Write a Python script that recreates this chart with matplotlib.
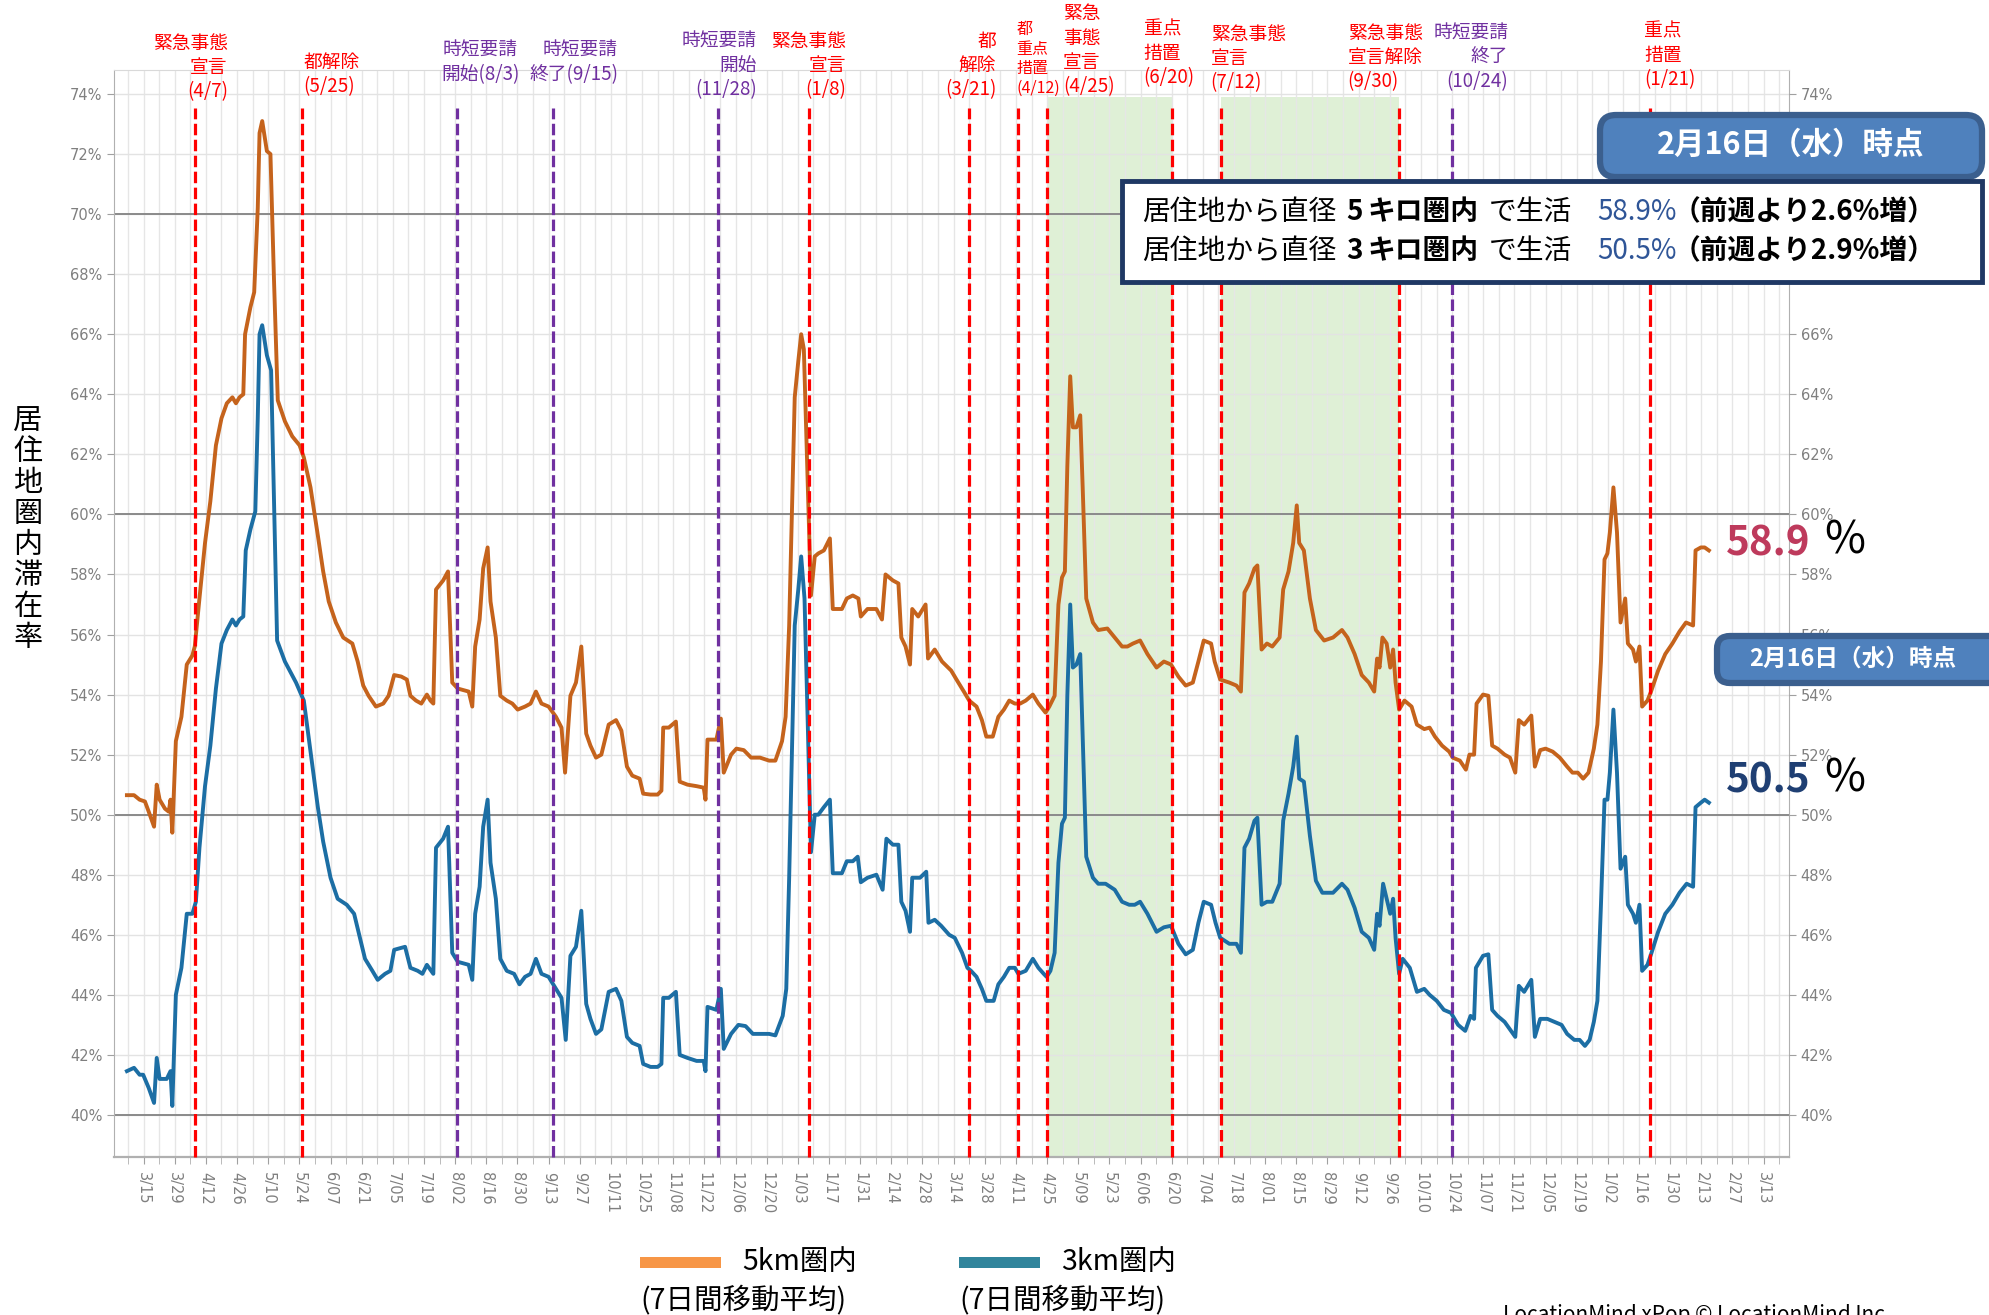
import numpy as np
import pandas as pd
import matplotlib
matplotlib.use('Agg')
import matplotlib.pyplot as plt
from matplotlib.patches import FancyBboxPatch, Rectangle
from matplotlib.transforms import IdentityTransform

plt.rcParams['font.family'] = ['Noto Sans CJK JP', 'DejaVu Sans']

START = pd.Timestamp('2020-03-15')   # day 0 of the x axis

# (days since 2020-03-15, percent)
five_km = [
    (-7.5, 50.65), (-4.3, 50.65), (-1.8, 50.5), (0.6, 50.44), (2.3, 50.1), (4.7, 49.6), (5.9, 51.0),
    (7.2, 50.5), (9.6, 50.2), (11.3, 50.1), (12.1, 50.5), (12.9, 49.4), (14.5, 52.45), (17.0, 53.26),
    (19.4, 55.0), (21.9, 55.3), (23.0, 55.6), (25.1, 57.2), (27.6, 59.05), (30.0, 60.44), (32.5, 62.3),
    (35.0, 63.2), (37.4, 63.7), (39.9, 63.9), (41.5, 63.7), (43.1, 63.9), (44.8, 64.0), (45.6, 66.0),
    (48.0, 66.9), (49.7, 67.4), (51.3, 70.2), (52.1, 72.7), (53.3, 73.1), (55.4, 72.1), (57.0, 72.0),
    (58.6, 67.8), (60.3, 63.8), (63.5, 63.1), (66.8, 62.6), (70.1, 62.3), (72.0, 61.9), (75.0, 60.9),
    (78.3, 59.3), (80.7, 58.1), (83.2, 57.1), (86.4, 56.4), (89.7, 55.9), (93.8, 55.7), (96.2, 55.1),
    (98.7, 54.3), (101.1, 53.96), (104.4, 53.6), (107.7, 53.7), (110.1, 53.96), (112.6, 54.65),
    (115.8, 54.6), (118.3, 54.5), (119.9, 53.96), (122.4, 53.8), (124.8, 53.7), (127.3, 54.0),
    (128.9, 53.8), (130.2, 53.7), (131.4, 57.5), (134.6, 57.8), (136.8, 58.1), (138.7, 54.4),
    (141.2, 54.2), (146.1, 54.1), (147.7, 53.6), (149.0, 55.6), (151.0, 56.5), (152.6, 58.2),
    (154.6, 58.9), (155.9, 57.1), (158.3, 55.9), (160.3, 53.96), (163.2, 53.8), (165.7, 53.7),
    (168.1, 53.5), (171.4, 53.6), (173.9, 53.7), (176.3, 54.1), (178.8, 53.7), (182.0, 53.6),
    (185.3, 53.26), (187.8, 52.9), (189.4, 51.4), (191.8, 53.96), (194.3, 54.4), (196.7, 55.6),
    (198.9, 52.7), (200.8, 52.3), (203.3, 51.9), (205.7, 52.0), (209.0, 53.0), (212.3, 53.15),
    (214.7, 52.8), (217.2, 51.6), (219.6, 51.3), (222.9, 51.2), (224.5, 50.7), (227.8, 50.67),
    (231.0, 50.67), (232.7, 50.8), (233.5, 52.9), (236.0, 52.9), (239.2, 53.1), (240.9, 51.1),
    (244.4, 51.0), (248.5, 50.95), (251.7, 50.9), (252.5, 50.5), (253.4, 52.5), (257.4, 52.5),
    (259.4, 53.2), (260.7, 51.4), (264.0, 52.0), (266.4, 52.2), (269.7, 52.15), (273.0, 51.9),
    (277.0, 51.9), (281.1, 51.8), (283.9, 51.8), (286.9, 52.45), (288.5, 53.26), (290.1, 56.3),
    (292.6, 63.9), (294.2, 65.1), (295.5, 66.0), (296.7, 65.5), (298.3, 61.4), (299.9, 57.3),
    (301.6, 58.6), (303.2, 58.7), (305.7, 58.8), (308.4, 59.2), (309.7, 56.85), (313.8, 56.85),
    (316.0, 57.2), (318.7, 57.3), (321.2, 57.2), (322.3, 56.6), (325.3, 56.85), (329.3, 56.85),
    (331.8, 56.5), (333.4, 58.0), (336.7, 57.8), (339.2, 57.7), (340.5, 55.9), (342.4, 55.6),
    (344.4, 55.0), (345.4, 56.85), (348.1, 56.6), (351.4, 57.0), (352.5, 55.2), (355.5, 55.5),
    (358.8, 55.1), (362.9, 54.8), (365.3, 54.5), (368.6, 54.1), (371.0, 53.8), (374.3, 53.6),
    (376.7, 53.15), (378.7, 52.6), (381.6, 52.6), (384.1, 53.26), (386.6, 53.5), (389.0, 53.8),
    (391.5, 53.7), (393.9, 53.7), (396.4, 53.8), (399.6, 54.0), (402.1, 53.7), (405.3, 53.4),
    (407.0, 53.6), (409.4, 53.96), (411.1, 57.0), (412.7, 57.9), (414.0, 58.1), (415.1, 61.6),
    (416.4, 64.6), (417.6, 62.9), (419.2, 62.9), (420.9, 63.3), (422.0, 60.9), (423.6, 57.2),
    (426.6, 56.4), (429.0, 56.15), (433.1, 56.2), (436.4, 55.9), (439.7, 55.6), (442.1, 55.6),
    (444.6, 55.7), (447.8, 55.8), (451.1, 55.35), (455.2, 54.9), (458.5, 55.1), (461.7, 55.0),
    (465.0, 54.6), (468.3, 54.3), (471.5, 54.4), (474.0, 55.1), (476.4, 55.8), (479.7, 55.7),
    (481.3, 55.1), (483.8, 54.5), (487.9, 54.4), (491.1, 54.3), (493.1, 54.1), (494.7, 57.4),
    (496.8, 57.7), (499.2, 58.2), (500.5, 58.3), (502.4, 55.5), (504.8, 55.7), (507.2, 55.6),
    (510.5, 55.9), (512.1, 57.5), (514.5, 58.1), (516.6, 59.05), (518.2, 60.3), (519.3, 59.05),
    (521.4, 58.8), (524.1, 57.2), (526.8, 56.15), (530.5, 55.8), (534.5, 55.9), (538.5, 56.15),
    (541.0, 55.9), (544.2, 55.35), (547.4, 54.65), (550.6, 54.4), (553.0, 54.1), (554.3, 55.2),
    (555.4, 54.9), (556.7, 55.9), (558.6, 55.7), (560.2, 54.9), (561.5, 55.5), (562.6, 54.4),
    (564.2, 53.5), (566.6, 53.8), (569.8, 53.6), (572.2, 53.0), (575.5, 52.85), (577.9, 52.9),
    (580.3, 52.6), (583.5, 52.3), (586.7, 52.1), (588.3, 51.9), (591.5, 51.8), (594.2, 51.5),
    (595.8, 52.0), (597.9, 52.0), (599.0, 53.7), (601.9, 54.0), (604.3, 53.96), (606.0, 52.3),
    (608.4, 52.2), (611.6, 52.0), (614.0, 51.9), (616.4, 51.4), (618.0, 53.15), (620.4, 53.0),
    (623.6, 53.3), (625.2, 51.6), (627.6, 52.15), (630.0, 52.2), (633.2, 52.1), (636.4, 51.9),
    (639.7, 51.6), (642.1, 51.4), (644.5, 51.4), (646.9, 51.2), (649.3, 51.4), (651.7, 52.2),
    (653.3, 53.0), (654.9, 55.1), (656.5, 58.5), (657.8, 58.7), (658.9, 59.4), (660.5, 60.9),
    (662.1, 59.4), (663.7, 56.4), (665.8, 57.2), (667.0, 55.7), (669.3, 55.5), (670.6, 55.1),
    (672.2, 55.6), (673.4, 53.6), (675.8, 53.8), (677.4, 54.1), (680.6, 54.8), (683.8, 55.35),
    (687.0, 55.7), (690.2, 56.1), (693.1, 56.4), (696.3, 56.3), (697.4, 58.8), (699.8, 58.9),
    (701.5, 58.9), (703.4, 58.8),
]

three_km = [
    (-7.5, 41.46), (-4.3, 41.57), (-1.8, 41.34), (-0.2, 41.34), (2.3, 40.9), (4.7, 40.4), (5.9, 41.9),
    (7.2, 41.2), (10.4, 41.2), (12.1, 41.46), (12.9, 40.3), (14.5, 44.0), (17.0, 44.9), (19.4, 46.7),
    (21.9, 46.7), (23.5, 47.1), (25.1, 48.9), (27.6, 50.95), (30.0, 52.3), (32.5, 54.2), (35.0, 55.7),
    (37.4, 56.15), (39.9, 56.5), (41.5, 56.3), (43.1, 56.5), (44.8, 56.6), (45.9, 58.8), (48.0, 59.5),
    (50.2, 60.1), (51.3, 63.2), (52.1, 66.0), (53.3, 66.3), (55.4, 65.3), (57.3, 64.8), (58.6, 60.4),
    (60.0, 55.8), (63.5, 55.1), (68.5, 54.4), (72.0, 53.8), (75.0, 52.1), (78.3, 50.25), (80.7, 49.1),
    (84.0, 47.9), (87.2, 47.2), (91.3, 47.0), (94.6, 46.7), (97.9, 45.7), (99.5, 45.2), (102.8, 44.8),
    (105.2, 44.5), (108.5, 44.7), (110.9, 44.8), (112.6, 45.5), (117.5, 45.6), (119.9, 44.9),
    (123.2, 44.8), (125.3, 44.7), (127.3, 45.0), (130.2, 44.7), (131.4, 48.9), (134.6, 49.2),
    (136.8, 49.6), (138.7, 45.4), (141.2, 45.1), (146.1, 45.0), (147.7, 44.5), (149.0, 46.7),
    (151.0, 47.6), (152.6, 49.6), (154.6, 50.5), (155.9, 48.4), (158.3, 47.2), (160.3, 45.2),
    (163.2, 44.8), (166.5, 44.7), (168.9, 44.35), (171.4, 44.6), (173.9, 44.7), (176.3, 45.2),
    (178.8, 44.7), (182.0, 44.6), (185.3, 44.2), (187.8, 43.9), (189.7, 42.5), (191.8, 45.3),
    (194.3, 45.6), (196.7, 46.8), (198.9, 43.7), (200.8, 43.2), (203.3, 42.7), (205.7, 42.85),
    (209.0, 44.1), (212.3, 44.2), (214.7, 43.8), (217.2, 42.6), (219.6, 42.4), (222.9, 42.3),
    (224.5, 41.7), (227.8, 41.6), (231.0, 41.6), (232.7, 41.7), (233.5, 43.9), (236.0, 43.9),
    (239.2, 44.1), (240.9, 42.0), (244.4, 41.9), (248.5, 41.8), (251.7, 41.8), (252.5, 41.46),
    (253.4, 43.6), (257.4, 43.5), (259.4, 44.2), (260.7, 42.2), (264.0, 42.7), (267.3, 43.0),
    (270.5, 42.96), (273.8, 42.7), (277.0, 42.7), (281.1, 42.7), (283.9, 42.65), (287.2, 43.3),
    (288.8, 44.2), (290.1, 47.9), (292.6, 56.3), (294.2, 57.5), (295.5, 58.6), (297.0, 57.2),
    (298.3, 53.5), (299.9, 48.75), (301.6, 50.0), (303.2, 50.0), (305.7, 50.25), (308.4, 50.5),
    (309.7, 48.05), (313.8, 48.05), (316.0, 48.45), (318.7, 48.45), (320.9, 48.6), (322.3, 47.75),
    (325.3, 47.9), (329.3, 48.0), (332.1, 47.5), (333.8, 49.2), (336.7, 49.0), (339.2, 49.0),
    (340.5, 47.1), (342.4, 46.8), (344.4, 46.1), (345.4, 47.9), (348.9, 47.9), (351.7, 48.1),
    (352.7, 46.4), (355.5, 46.5), (358.4, 46.3), (362.0, 46.0), (364.5, 45.9), (367.8, 45.4),
    (370.2, 44.9), (371.8, 44.8), (374.3, 44.6), (376.7, 44.2), (378.7, 43.8), (382.0, 43.8),
    (384.1, 44.35), (386.6, 44.6), (389.0, 44.9), (391.5, 44.9), (393.1, 44.7), (396.4, 44.8),
    (399.6, 45.2), (402.1, 44.9), (404.5, 44.7), (405.8, 44.6), (407.5, 44.8), (409.4, 45.4),
    (411.1, 48.4), (412.7, 49.7), (414.0, 49.9), (415.1, 53.96), (416.4, 57.0), (417.6, 54.9),
    (419.2, 55.0), (420.9, 55.35), (422.0, 52.6), (423.6, 48.6), (426.6, 47.9), (429.0, 47.7),
    (432.3, 47.7), (436.4, 47.5), (439.7, 47.1), (442.9, 47.0), (445.4, 47.0), (447.8, 47.1),
    (451.1, 46.7), (455.2, 46.1), (458.5, 46.25), (461.7, 46.3), (465.0, 45.7), (468.3, 45.35),
    (471.5, 45.5), (474.0, 46.4), (476.4, 47.1), (479.7, 47.0), (481.7, 46.4), (483.8, 45.9),
    (487.9, 45.7), (491.1, 45.7), (493.1, 45.4), (494.7, 48.9), (496.8, 49.2), (499.2, 49.8),
    (500.5, 49.9), (502.4, 47.0), (504.8, 47.1), (507.2, 47.1), (510.5, 47.7), (512.1, 49.8),
    (514.5, 50.7), (516.6, 51.6), (518.2, 52.6), (519.3, 51.2), (521.4, 51.1), (524.1, 49.3),
    (526.8, 47.8), (529.7, 47.4), (534.5, 47.4), (538.5, 47.7), (541.0, 47.5), (544.2, 46.9),
    (547.4, 46.1), (550.6, 45.9), (553.0, 45.5), (554.3, 46.7), (555.4, 46.3), (557.0, 47.7),
    (558.6, 47.2), (560.2, 46.7), (561.5, 47.2), (562.6, 45.9), (564.2, 44.7), (565.8, 45.2),
    (569.0, 44.9), (572.2, 44.1), (575.5, 44.2), (577.9, 44.0), (581.1, 43.8), (584.3, 43.5),
    (587.5, 43.4), (590.7, 43.0), (593.9, 42.8), (596.3, 43.3), (597.9, 43.2), (598.7, 44.9),
    (601.9, 45.3), (604.3, 45.35), (606.0, 43.5), (608.4, 43.3), (611.6, 43.1), (614.0, 42.85),
    (616.4, 42.6), (618.0, 44.3), (620.4, 44.1), (623.6, 44.5), (625.2, 42.6), (627.6, 43.2),
    (630.8, 43.2), (634.0, 43.1), (637.2, 43.0), (639.7, 42.7), (642.9, 42.5), (645.3, 42.5),
    (647.7, 42.3), (649.8, 42.5), (651.7, 43.1), (653.3, 43.8), (654.9, 47.0), (656.5, 50.5),
    (657.8, 50.5), (658.9, 51.4), (660.5, 53.5), (662.1, 51.4), (663.7, 48.2), (665.8, 48.6),
    (667.0, 47.0), (669.3, 46.7), (670.6, 46.4), (672.2, 47.0), (673.4, 44.8), (675.8, 45.0),
    (677.4, 45.35), (680.6, 46.1), (683.8, 46.7), (687.0, 47.0), (690.2, 47.4), (693.4, 47.7),
    (696.3, 47.6), (697.4, 50.25), (699.8, 50.4), (701.5, 50.5), (703.4, 50.4),
]

event_dates = ['2020-04-07', '2020-05-25', '2020-08-03', '2020-09-15', '2020-11-28', '2021-01-08',
               '2021-03-21', '2021-04-12', '2021-04-25', '2021-06-20', '2021-07-12', '2021-09-30',
               '2021-10-24', '2022-01-21']
event_labels = ['緊急事態\n宣言\n(4/7)', '都解除\n(5/25)', '時短要請\n開始(8/3)', '時短要請\n終了(9/15)',
                '時短要請\n開始\n(11/28)', '緊急事態\n宣言\n(1/8)', '都\n解除\n(3/21)', '都\n重点\n措置\n(4/12)',
                '緊急\n事態\n宣言\n(4/25)', '重点\n措置\n(6/20)', '緊急事態\n宣言\n(7/12)',
                '緊急事態\n宣言解除\n(9/30)', '時短要請\n終了\n(10/24)', '重点\n措置\n(1/21)']
event_kind = ['r', 'r', 'p', 'p', 'p', 'r', 'r', 'r', 'r', 'r', 'r', 'r', 'p', 'r']
shaded_periods = [('2021-04-25', '2021-06-20'), ('2021-07-12', '2021-09-30')]

latest_5km = '58.9'
latest_3km = '50.5'
as_of = '2月16日（水）時点'
box_lines = [('5', '58.9%', '2.6%'), ('3', '50.5%', '2.9%')]

# label layout: (x offset px from line, bottom offset px from axes top, ha, fontsize)
label_pos = [(33, -32, 'right', 13.5), (2, -27, 'left', 13.5), (23, -15, 'center', 13.5),
             (65, -15, 'right', 13.5), (39, -30, 'right', 13.5), (37, -30, 'right', 13.5),
             (27, -30, 'right', 13.5), (-2, -27, 'left', 11.5), (16, -27, 'left', 13.5),
             (-28, -18, 'left', 13.5), (-10, -23, 'left', 13.5), (-51, -22, 'left', 13.5),
             (56, -22, 'right', 13.5), (-6, -20, 'left', 13.5)]

RED = '#ff0000'
PURPLE = '#7030a0'
ORANGE = '#c5631c'
BLUE = '#1c6ea4'
GRAY = '#7f7f7f'

W, H = 1989, 1315
fig = plt.figure(figsize=(W / 100, H / 100), dpi=100)
fig.patch.set_facecolor('white')
ax = fig.add_axes([114 / W, 1 - 1157 / H, (1789 - 114) / W, (1157 - 70) / H])
YLO, YHI = 38.6, 74.8
ax.set_xlim(-13.3, 739.4)
ax.set_ylim(YLO, YHI)

def to_day(d):
    return (pd.Timestamp(d) - START).days

# grid
ax.set_axisbelow(True)
yt = np.arange(40, 75, 2)
ax.set_yticks(yt)
ax.set_yticklabels([f'{v}%' for v in yt])
tick_dates = pd.date_range('2020-03-15', '2022-03-13', freq='14D')
ax.set_xticks([to_day(d) for d in tick_dates])
ax.set_xticklabels([f'{d.month}/{d.day:02d}' for d in tick_dates], rotation=-90)
ax.set_xticks(np.arange(-7, 736, 7), minor=True)
ax.grid(axis='y', color='#e3e3e3', lw=1)
ax.grid(axis='x', which='both', color='#e6e6e6', lw=1)
for v in [40, 50, 60, 70]:
    ax.axhline(v, color='#8a8a8a', lw=1.4, zorder=1)

for a, b in shaded_periods:
    ax.fill_between([to_day(a), to_day(b)], YLO, 73.9, color='#dff0d6', lw=0, zorder=0.3)

d5, v5 = zip(*five_km)
d3, v3 = zip(*three_km)
ax.plot(d5, v5, color=ORANGE, lw=2.8, zorder=2, solid_joinstyle='round')
ax.plot(d3, v3, color=BLUE, lw=2.8, zorder=2, solid_joinstyle='round')

for d, lab, k, (dx, dy, ha, fs) in zip(event_dates, event_labels, event_kind, label_pos):
    c = RED if k == 'r' else PURPLE
    day = to_day(d)
    ax.plot([day, day], [YLO, 73.55], color=c, lw=2.3, dashes=(3.6, 1.4), zorder=3, clip_on=False)
    ax.annotate(lab, xy=(day, 1), xycoords=('data', 'axes fraction'), xytext=(dx, dy),
                textcoords='offset pixels', ha=ha, va='bottom', color=c, fontsize=fs,
                linespacing=1.2, annotation_clip=False)

for s in ['left', 'bottom', 'top', 'right']:
    ax.spines[s].set_color('#b0b0b0')
ax.spines['top'].set_color('#d9d9d9')
ax.spines['bottom'].set_linewidth(1.6)
ax.tick_params(axis='both', colors='#a0a0a0', labelcolor=GRAY, labelsize=10.5, length=5)
ax.tick_params(axis='x', which='minor', length=5, colors='#b0b0b0')
ax.tick_params(axis='x', pad=6)
for t in ax.get_xticklabels() + ax.get_yticklabels():
    t.set_fontfamily('DejaVu Sans')

# right axis: the labels behind the white box are not visible in the chart
ax2 = ax.twinx()
ax2.set_ylim(YLO, YHI)
ax2.set_yticks(yt)
ax2.set_yticklabels(['' if v in (68, 70, 72) else f'{v}%' for v in yt])
ax2.tick_params(axis='y', colors='#a0a0a0', labelcolor=GRAY, labelsize=10.5, length=5)
for t in ax2.get_yticklabels():
    t.set_fontfamily('DejaVu Sans')
for s in ax2.spines.values():
    s.set_visible(False)

ID = IdentityTransform()

# y label, one character under another
for i, ch in enumerate('居住地圏内滞在率'):
    fig.text(28, H - (421 + 31 * i), ch, transform=ID, fontsize=21,
             ha='center', va='center', color='black')

# boxes on the upper right
fig.add_artist(FancyBboxPatch((1600, H - 177), 382, 62, boxstyle='round,pad=0,rounding_size=16',
                              fc='#4f81bd', ec='#3b5f8e', lw=4.5, transform=ID, zorder=5))
fig.text(1791, H - 145, as_of, transform=ID, ha='center', va='center', color='white',
         fontsize=22, fontweight='bold', zorder=6)
fig.add_artist(Rectangle((1122, H - 282), 860, 101, fc='white', ec='#1f3864', lw=3.5,
                         transform=ID, zorder=7))
for (km, pct, diff), y in zip(box_lines, [212, 251]):
    pieces = [(1142, '居住地から直径', 'normal', 'black'), (1346, km, 'bold', 'black'),
              (1367, 'キロ圏内', 'bold', 'black'), (1489, 'で生活', 'normal', 'black'),
              (1597, pct, 'normal', '#2f5597'), (1673, f'（前週より{diff}増）', 'bold', 'black')]
    for x, s, wgt, c in pieces:
        fig.text(x, H - y, s, transform=ID, ha='left', va='center', fontsize=20,
                 fontweight=wgt, color=c, zorder=8)

fig.add_artist(FancyBboxPatch((1717, H - 683), 300, 47, boxstyle='round,pad=0,rounding_size=13',
                              fc='#4f81bd', ec='#3b5f8e', lw=4.5, transform=ID, zorder=5))
fig.text(1853, H - 659, as_of, transform=ID, ha='center', va='center', color='white',
         fontsize=17, fontweight='bold', zorder=6)

fig.text(1726, H - 544, latest_5km, transform=ID, ha='left', va='center', color='#be3a5c',
         fontsize=29, fontweight='bold', zorder=6)
fig.text(1824, H - 541, '%', transform=ID, ha='left', va='center', color='black', fontsize=32, zorder=6)
fig.text(1726, H - 781, latest_3km, transform=ID, ha='left', va='center', color='#1f3f73',
         fontsize=29, fontweight='bold', zorder=6)
fig.text(1824, H - 778, '%', transform=ID, ha='left', va='center', color='black', fontsize=32, zorder=6)

# legend at the bottom
for x0, col, lab in [(640, '#f79646', '5km圏内'), (959, '#31859c', '3km圏内')]:
    fig.add_artist(Rectangle((x0, H - 1268), 81, 11, fc=col, ec='none', transform=ID))
    fig.text(x0 + 102, H - 1262, lab, transform=ID, ha='left', va='center', fontsize=20.5)
    fig.text(x0, H - 1300, '(7日間移動平均)', transform=ID, ha='left', va='center', fontsize=20.5)

fig.text(1503, H - 1304, 'LocationMind xPop © LocationMind Inc.', transform=ID, ha='left',
         va='top', fontsize=15, color='black')

fig.savefig('out.png', dpi=100, facecolor='white')
